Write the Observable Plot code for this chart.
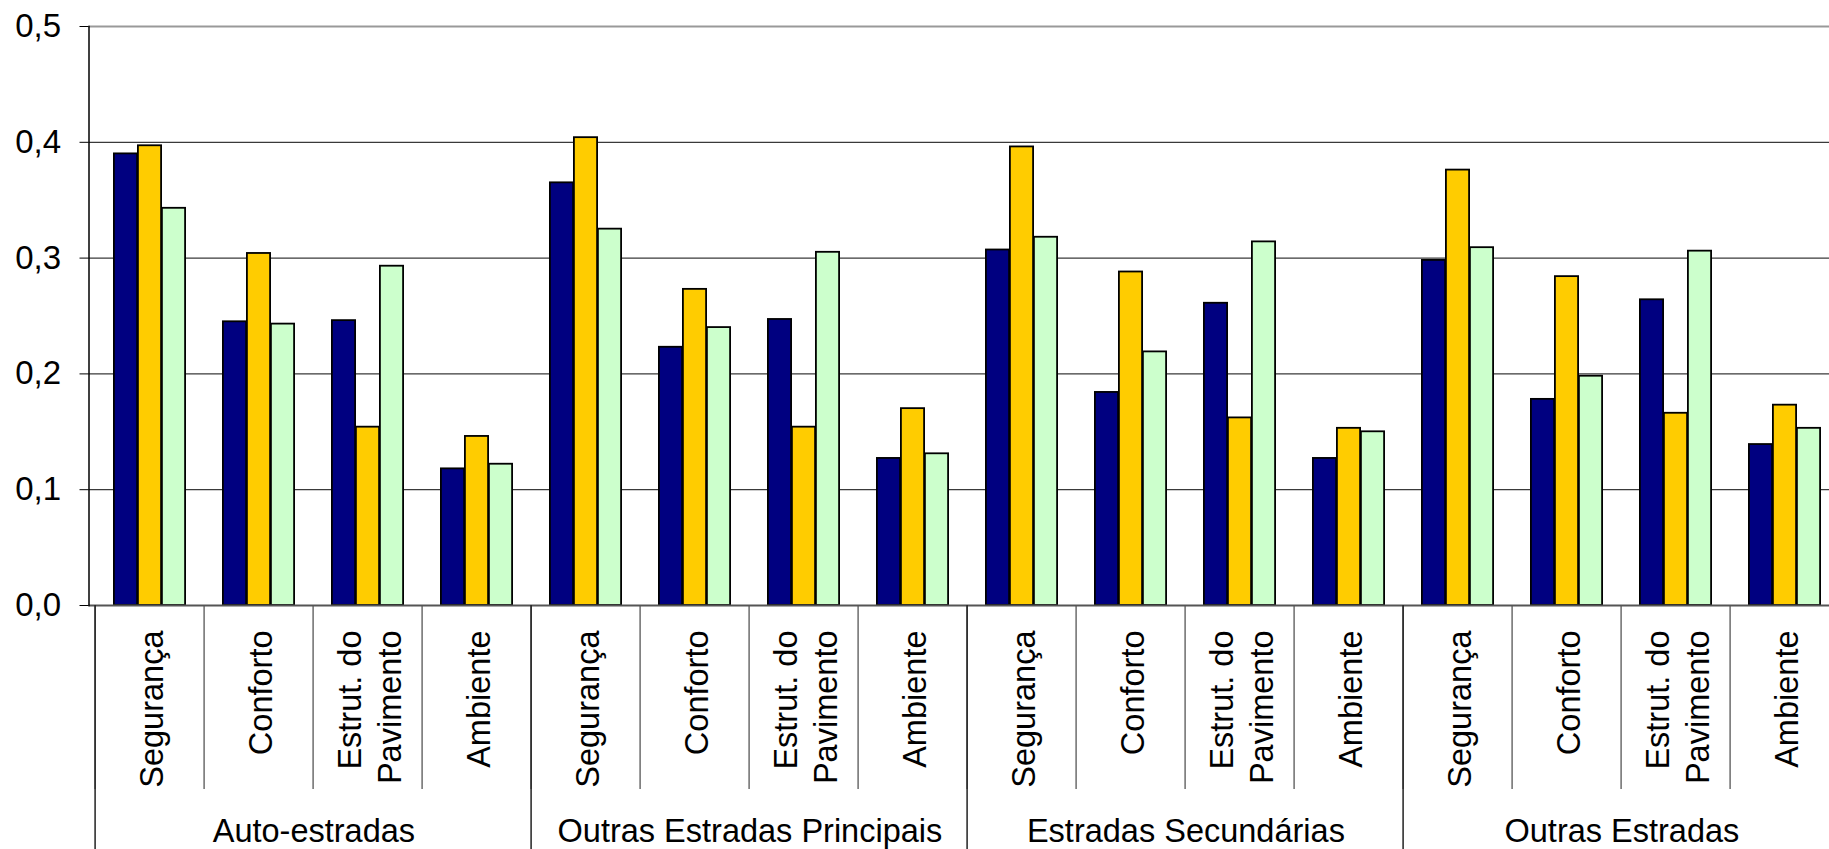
<!DOCTYPE html>
<html>
<head>
<meta charset="utf-8">
<script src="https://cdn.jsdelivr.net/npm/d3@7"></script>
<script src="https://cdn.jsdelivr.net/npm/@observablehq/plot@0.6"></script>
<style>
  html, body { margin: 0; padding: 0; background: white; overflow: hidden; }
  #chart { width: 1829px; height: 849px; overflow: hidden; }
</style>
</head>
<body>
<div id="chart"></div>
<script>
const groups = ["Auto-estradas", "Outras Estradas Principais", "Estradas Secundárias", "Outras Estradas"];
const criteria = ["Segurança", "Conforto", "Estrut. do\nPavimento", "Ambiente"];
const seriesNames = ["Série 1", "Série 2", "Série 3"];
const seriesColors = ["#000080", "#FFCC00", "#CCFFCC"];
const serie1 = [0.390, 0.245, 0.246, 0.118, 0.365, 0.223, 0.247, 0.127, 0.307, 0.184, 0.261, 0.127, 0.298, 0.178, 0.264, 0.139];
const serie2 = [0.397, 0.304, 0.154, 0.146, 0.404, 0.273, 0.154, 0.170, 0.396, 0.288, 0.162, 0.153, 0.376, 0.284, 0.166, 0.173];
const serie3 = [0.343, 0.243, 0.293, 0.122, 0.325, 0.240, 0.305, 0.131, 0.318, 0.219, 0.314, 0.150, 0.309, 0.198, 0.306, 0.153];
const yTicks = [0, 0.1, 0.2, 0.3, 0.4, 0.5];

// build table
const cats = [];
groups.forEach(g => criteria.forEach(c => cats.push({group: g, crit: c, key: g + "|" + c})));
const keys = cats.map(d => d.key);
const seriesValues = [serie1, serie2, serie3];
const rows = [];
seriesValues.forEach((vals, s) => vals.forEach((v, i) => rows.push({key: keys[i], series: seriesNames[s], s, value: v})));
const groupStarts = groups.map(g => g + "|" + criteria[0]);
const groupMids = groups.map(g => ({group: g, key: g + "|" + criteria[1]}));

const width = 1829, height = 849;
const x0 = 88.5, x1 = 1845.5;       // plot area (clipped on the right as in the source)
const y0 = 605, yTop = 26;
const bw = (x1 - x0) / keys.length;
const barW = 24;
const inset = (bw - barW) / 2;

const barMarks = seriesNames.map((name, s) =>
  Plot.barY(rows.filter(r => r.s === s), {
    x: "key", y: "value",
    fill: seriesColors[s], stroke: "#000", strokeWidth: 1.8,
    insetLeft: inset, insetRight: inset,
    dx: (s - 1) * barW
  })
);

const chart = Plot.plot({
  width, height,
  marginLeft: x0, marginRight: 0, marginTop: yTop, marginBottom: height - y0,
  style: {fontFamily: "'Liberation Sans', Arial, sans-serif", fontSize: "32px", background: "white", color: "#000", overflow: "hidden"},
  x: {type: "band", domain: keys, range: [x0, x1], padding: 0},
  y: {domain: [0, 0.5], range: [y0, yTop]},
  marks: [
    Plot.ruleY(yTicks.filter(t => t > 0 && t < 0.5), {y: d => d, stroke: "#3a3a3a", strokeWidth: 1.3}),
    Plot.ruleY([0.5], {y: d => d, stroke: "#999", strokeWidth: 2.2}),
    ...barMarks,
    Plot.ruleY([0], {y: d => d, stroke: "#555", strokeWidth: 2}),
    Plot.frame({anchor: "left", stroke: "#000", strokeWidth: 1.5}),
    Plot.axisY({ticks: yTicks, tickSize: 9, tickPadding: 19, tickFormat: d => d.toFixed(1).replace(".", ","), fontSize: 33, label: null, stroke: "#000"}),
    // category separators below the axis
    Plot.axisX({ticks: keys, tickSize: 184, tickFormat: () => "", dx: -bw / 2, stroke: "#555", strokeWidth: 1.3, label: null}),
    // group separators reaching the bottom
    Plot.axisX({ticks: groupStarts, tickSize: 250, tickFormat: () => "", dx: -bw / 2, stroke: "#222", strokeWidth: 1.5, label: null}),
    // category labels (rotated)
    Plot.text(cats, {x: "key", y: () => 0, text: "crit", rotate: -90, textAnchor: "end", dy: 25, lineHeight: 1.25, fontSize: 32.5, fill: "#000"}),
    // group labels
    Plot.text(groupMids, {x: "key", y: () => 0, text: "group", dx: bw / 2, dy: 236, lineAnchor: "bottom", fontSize: 32.5, fill: "#000"})
  ]
});
document.getElementById("chart").appendChild(chart);
</script>
</body>
</html>
